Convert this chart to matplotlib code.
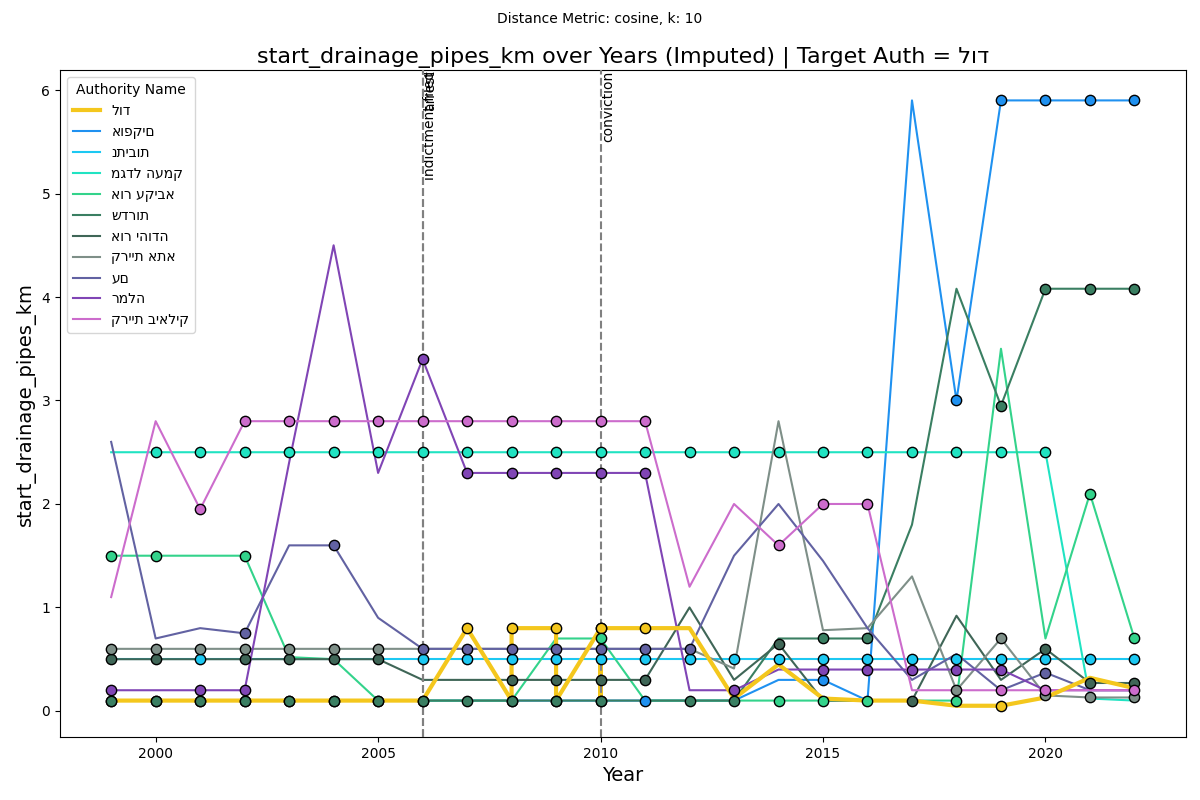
import matplotlib
matplotlib.use("Agg")
import matplotlib.pyplot as plt

plt.rcParams['font.family'] = ['DejaVu Sans']

years = list(range(1999, 2023))

# Target authority (has duplicate year entries)
lod_years = [1999, 2000, 2001, 2002, 2003, 2004, 2005, 2006, 2007,
             2008, 2008, 2009, 2009, 2010, 2010, 2010, 2011, 2012,
             2013, 2014, 2015, 2016, 2017, 2018, 2019, 2020, 2021, 2022]
lod_values = [0.1, 0.1, 0.1, 0.1, 0.1, 0.1, 0.1, 0.1, 0.8,
              0.1, 0.8, 0.8, 0.1, 0.8, 0.1, 0.8, 0.8, 0.8,
              0.12, 0.45, 0.12, 0.1, 0.1, 0.05, 0.05, 0.13, 0.32, 0.22]
lod_obs = [1, 1, 1, 1, 1, 1, 1, 1, 1,
           1, 1, 1, 1, 1, 1, 1, 1, 0,
           0, 0, 0, 0, 0, 0, 1, 0, 0, 0]

ofakim = [0.1]*15 + [0.3, 0.3, 0.1, 5.9, 3.0, 5.9, 5.9, 5.9, 5.9]
ofakim_obs = [0]*12 + [1, 0, 0, 0, 1, 0, 0, 1, 1, 1, 1, 1]

netivot = [0.5]*24
netivot_obs = [0, 0, 1, 0, 0, 0, 0] + [1]*17

migdal = [2.5]*22 + [0.12, 0.1]
migdal_obs = [0] + [1]*21 + [0, 0]

or_akiva = [1.5, 1.5, 1.5, 1.5, 0.52, 0.5, 0.1, 0.1, 0.1, 0.1, 0.7, 0.7,
            0.1, 0.1, 0.1, 0.1, 0.1, 0.1, 0.1, 0.1, 3.5, 0.7, 2.1, 0.7]
or_akiva_obs = [1, 1, 0, 1, 0, 0, 0, 0, 0, 0, 0, 1,
                0, 0, 0, 1, 1, 1, 0, 1, 0, 0, 1, 1]

sderot = [0.1]*15 + [0.7, 0.7, 0.7, 1.8, 4.08, 2.95, 4.08, 4.08, 4.08]
sderot_obs = [1]*12 + [0, 1, 1, 0, 1, 1, 0, 0, 1, 1, 1, 1]

or_yehuda = [0.5]*7 + [0.3]*6 + [1.0, 0.3, 0.65, 0.1, 0.1, 0.1, 0.92, 0.3, 0.6, 0.27, 0.27]
or_yehuda_obs = [1, 1, 0, 1, 1, 1, 1] + [0, 0, 1, 1, 1, 1, 0, 0, 1, 0, 0, 1, 0, 0, 1, 1, 1]

kiryat_ata = [0.6]*14 + [0.41, 2.8, 0.78, 0.8, 1.3, 0.2, 0.7, 0.15, 0.13, 0.13]
kiryat_ata_obs = [1]*7 + [0]*12 + [1, 1, 1, 1, 1]

akko = [2.6, 0.7, 0.8, 0.75, 1.6, 1.6, 0.9, 0.6, 0.6, 0.6, 0.6, 0.6, 0.6, 0.6,
        1.5, 2.0, 1.45, 0.8, 0.3, 0.55, 0.2, 0.37, 0.2, 0.2]
akko_obs = [0, 0, 0, 1, 0, 1, 0, 1, 1, 1, 1, 1, 1, 1,
            0, 0, 0, 0, 0, 0, 0, 1, 0, 0]

ramla = [0.2, 0.2, 0.2, 0.2, 2.4, 4.5, 2.3, 3.4, 2.3, 2.3, 2.3, 2.3, 2.3,
         0.2, 0.2, 0.4, 0.4, 0.4, 0.4, 0.4, 0.4, 0.2, 0.2, 0.2]
ramla_obs = [1, 0, 1, 1, 0, 0, 0, 1, 1, 1, 1, 1, 1,
             0, 1, 0, 1, 1, 1, 1, 1, 0, 0, 0]

bialik = [1.1, 2.8, 1.95, 2.8, 2.8, 2.8, 2.8, 2.8, 2.8, 2.8, 2.8, 2.8, 2.8,
          1.2, 2.0, 1.6, 2.0, 2.0, 0.2, 0.2, 0.2, 0.2, 0.2, 0.2]
bialik_obs = [0, 0, 1, 1, 1, 1, 1, 1, 1, 1, 1, 1, 1,
              0, 0, 1, 1, 1, 0, 0, 1, 1, 0, 1]

names = ['לוד', 'אופקים', 'נתיבות', 'מגדל העמק', 'אור עקיבא', 'שדרות',
         'אור יהודה', 'קריית אתא', 'עם', 'רמלה', 'קריית ביאליק']
colors = ['#f4c71d', '#1f91f0', '#1cc8f2', '#20e3c2', '#33d38b', '#3a7f62',
          '#3f6657', '#7e8f88', '#6262a2', '#8045b5', '#cc6ccc']

series_x = [lod_years] + [years]*10
series_y = [lod_values, ofakim, netivot, migdal, or_akiva, sderot,
            or_yehuda, kiryat_ata, akko, ramla, bialik]
series_obs = [lod_obs, ofakim_obs, netivot_obs, migdal_obs, or_akiva_obs, sderot_obs,
              or_yehuda_obs, kiryat_ata_obs, akko_obs, ramla_obs, bialik_obs]

events = [(2006, 'indictment filed'), (2006, 'arrest'), (2010, 'conviction')]

fig, ax = plt.subplots(figsize=(12, 8), dpi=100)

for i, (nm, c, xs, ys, ob) in enumerate(zip(names, colors, series_x, series_y, series_obs)):
    is_target = (i == 0)
    ax.plot(xs, ys, color=c, lw=3 if is_target else 1.5, label=nm,
            zorder=3 if is_target else 2)
    ox = [x for x, o in zip(xs, ob) if o]
    oy = [y for y, o in zip(ys, ob) if o]
    ax.scatter(ox, oy, color=c, edgecolor='black', linewidth=1, s=55, zorder=4)

ymax = 6.19
for yr, lab in events:
    ax.axvline(yr, color='gray', linestyle='--', lw=1.5, zorder=3.5)
    ax.text(yr + 0.02, ymax, lab, rotation=90, va='top', ha='left', fontsize=10)

ax.set_ylim(-0.25, ymax)
ax.set_xlim(1997.85, 2023.15)
ax.set_title('start_drainage_pipes_km over Years (Imputed) | Target Auth = לוד', fontsize=16)
fig.suptitle('Distance Metric: cosine, k: 10', fontsize=10, y=0.985)
ax.set_xlabel('Year', fontsize=14)
ax.set_ylabel('start_drainage_pipes_km', fontsize=14)
ax.legend(title='Authority Name', loc='upper left')

fig.subplots_adjust(left=0.05, right=0.988, top=0.912, bottom=0.079)
fig.savefig('out.png')
